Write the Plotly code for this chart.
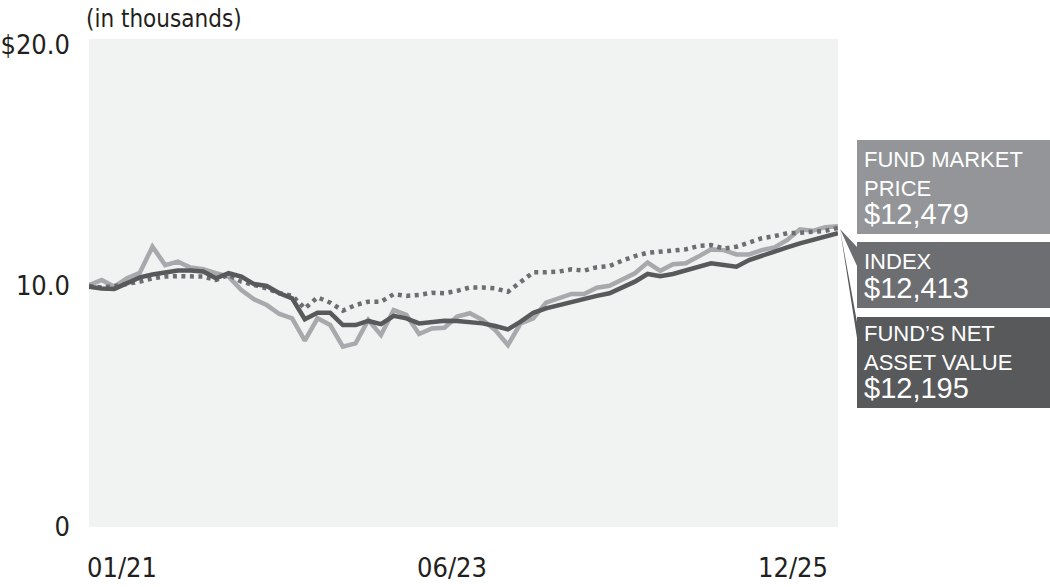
import plotly.graph_objects as go

# ---- data (values in $ thousands, monthly) ----
market_price = [10.04, 10.25, 9.97, 10.32, 10.55, 11.63, 10.87, 11.01, 10.77, 10.70,
                10.53, 10.39, 9.83, 9.45, 9.21, 8.84, 8.66, 7.73, 8.66, 8.38,
                7.48, 7.62, 8.59, 7.97, 9.00, 8.80, 8.01, 8.24, 8.27, 8.73,
                8.87, 8.59, 8.17, 7.55, 8.45, 8.66, 9.31, 9.49, 9.67, 9.67,
                9.93, 10.01, 10.25, 10.53, 10.97, 10.63, 10.90, 10.94, 11.22, 11.52,
                11.49, 11.31, 11.31, 11.49, 11.60, 11.91, 12.35, 12.29, 12.44, 12.479]
index_vals = [10.00, 9.94, 10.00, 10.08, 10.18, 10.32, 10.39, 10.41, 10.41, 10.39,
              10.25, 10.46, 10.18, 10.04, 9.90, 9.70, 9.60, 9.07, 9.53, 9.31,
              8.98, 9.21, 9.35, 9.35, 9.66, 9.59, 9.63, 9.72, 9.70, 9.80,
              9.94, 9.94, 9.90, 9.76, 10.18, 10.57, 10.57, 10.60, 10.69, 10.64,
              10.78, 10.83, 11.05, 11.24, 11.38, 11.42, 11.49, 11.52, 11.66, 11.70,
              11.56, 11.63, 11.80, 11.98, 12.07, 12.19, 12.21, 12.23, 12.29, 12.413]
nav_vals = [9.97, 9.90, 9.88, 10.14, 10.36, 10.48, 10.55, 10.64, 10.64, 10.60,
            10.32, 10.53, 10.39, 10.08, 10.00, 9.70, 9.49, 8.62, 8.89, 8.89,
            8.38, 8.38, 8.55, 8.42, 8.76, 8.66, 8.45, 8.52, 8.56, 8.55,
            8.52, 8.45, 8.34, 8.20, 8.52, 8.89, 9.07, 9.21, 9.35, 9.49,
            9.59, 9.70, 9.93, 10.18, 10.50, 10.41, 10.50, 10.64, 10.80, 10.94,
            10.87, 10.80, 11.08, 11.24, 11.42, 11.60, 11.77, 11.91, 12.05, 12.195]
months = list(range(len(nav_vals)))

x_tick_labels = ["01/21", "06/23", "12/25"]
x_tick_pos = [0, 29, 59]
y_tick_vals = [0, 10, 20]
y_tick_text = ["0", "10.0", "$20.0"]

label_texts = ["FUND MARKET<br>PRICE", "INDEX", "FUND\u2019S NET<br>ASSET VALUE"]
label_values = ["$12,479", "$12,413", "$12,195"]
label_colors = ["#939598", "#6d6e71", "#58595b"]

# ---- figure geometry ----
W, H = 1050, 587
L, R, T, B = 89, 838, 39, 527
pw, ph = R - L, B - T


def px(x):
    return (x - L) / pw


def py(y):
    return (B - y) / ph


fig = go.Figure()
fig.add_trace(go.Scatter(x=months, y=market_price, mode="lines",
                         line=dict(color="#a7a9ac", width=4.5), name="Fund market price"))
fig.add_trace(go.Scatter(x=months, y=index_vals, mode="lines",
                         line=dict(color="#6d6e71", width=4.5, dash="4px,4.5px"), name="Index"))
fig.add_trace(go.Scatter(x=months, y=nav_vals, mode="lines",
                         line=dict(color="#58595b", width=4.5), name="Fund NAV"))

tick_font = dict(family="Liberation Sans Narrow, DejaVu Sans Condensed, sans-serif",
                 size=27, color="#231f20")

# right-hand callout boxes
boxes = [(140, 234, 165), (242, 308, 266), (317, 408, 338)]
tip = (840, 229)
shapes = []
annotations = []
for (y0, y1, yp), col, txt, val in zip(boxes, label_colors, label_texts, label_values):
    path = (f"M {px(857)},{py(y0)} L {px(1050)},{py(y0)} L {px(1050)},{py(y1)} "
            f"L {px(857)},{py(y1)} L {px(857)},{py(yp)} L {px(tip[0])},{py(tip[1])} "
            f"L {px(857)},{py(y0 + (5 if y0 > 200 else 25))} Z")
    shapes.append(dict(type="path", path=path, xref="paper", yref="paper",
                       fillcolor=col, line=dict(width=0), layer="above"))
    annotations.append(dict(x=px(862), y=py(y1 - 2), xref="paper", yref="paper",
                            xanchor="left", yanchor="bottom", align="left",
                            showarrow=False,
                            text=f"<span style='font-size:22px'>{txt}</span><br>"
                                 f"<span style='font-size:29px'>{val}</span>",
                            font=dict(family="Liberation Sans, Arial, sans-serif",
                                      size=22, color="white")))

# x tick labels
anchors = ["left", "center", "right"]
shifts = [-4, -5, -8]
for lab, pos, anc, sh in zip(x_tick_labels, x_tick_pos, anchors, shifts):
    annotations.append(dict(x=pos, y=0, xref="x", yref="paper", yshift=-23,
                            xanchor=anc, yanchor="top", text=lab, showarrow=False,
                            xshift=sh, font=tick_font))

annotations.append(dict(x=px(84), y=py(3), xref="paper", yref="paper",
                        xanchor="left", yanchor="top", text="(in thousands)",
                        showarrow=False, font=dict(tick_font, size=24)))

fig.update_layout(
    width=W, height=H,
    margin=dict(l=L, r=W - R, t=T, b=H - B, pad=0, autoexpand=False),
    paper_bgcolor="white", plot_bgcolor="#f1f2f2",
    showlegend=False,
    shapes=shapes, annotations=annotations,
    xaxis=dict(range=[0, 59], showgrid=False, zeroline=False, showticklabels=False,
               showline=False, fixedrange=True, automargin=False),
    yaxis=dict(range=[0, 20.25], tickvals=y_tick_vals, ticktext=y_tick_text,
               showgrid=False, zeroline=False, showline=False, ticks="",
               ticklabelstandoff=18, tickfont=tick_font, fixedrange=True,
               automargin=False),
)

fig.write_html("out.html", include_plotlyjs=True, config={"displayModeBar": False},
               post_script="document.body.style.margin='0';")
